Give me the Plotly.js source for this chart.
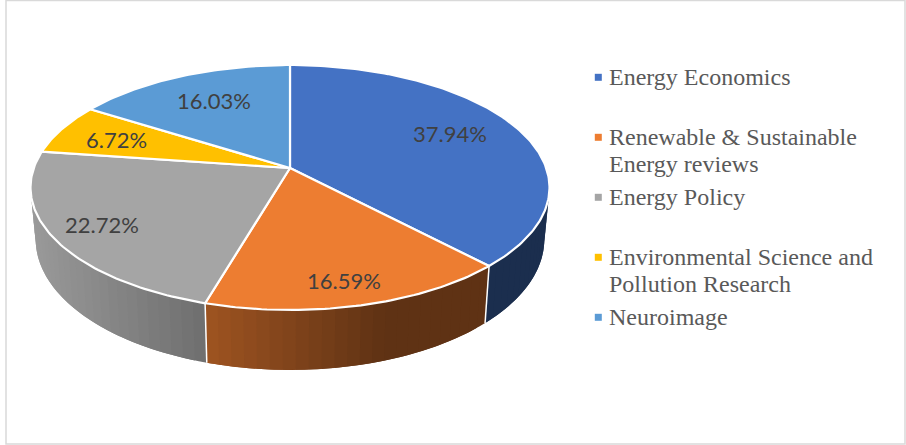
<!DOCTYPE html>
<html>
<head>
<meta charset="utf-8">
<script src="https://cdn.plot.ly/plotly-3.0.1.min.js"></script>
<style>html,body{margin:0;padding:0;background:#fff}#chart{width:906px;height:445px}</style>
</head>
<body>
<div id="chart"></div>
<script>
// ---- data ----
var categories = ["Energy Economics", "Renewable & Sustainable<br>Energy reviews", "Energy Policy", "Environmental Science and<br>Pollution Research", "Neuroimage"];
var shares = [37.94, 16.59, 22.72, 6.72, 16.03];
var colors = ["#4472c4", "#ed7d31", "#a5a5a5", "#ffc000", "#5b9bd5"];

// ---- label placement (layout only) ----
var labelX = [450, 344, 102, 116, 214];
var labelY = [133, 280, 224, 139, 100];
var legendY = [77.3, 137.3, 197.3, 257.3, 317.3];

// ---- projection of the tilted disc ----
var cx = 290, cy = 168, R = 256.2, H = 119.4, k = 0.159, depth = 50.4, shrink = 0.98;
function top3d(deg) {
  var a = deg * Math.PI / 180, u = Math.sin(a), v = Math.cos(a), p = 1 / (1 + k * v);
  return [cx + R * u * p, cy - H * v * p, p];
}
function bottom3d(deg) {
  var t = top3d(deg);
  return [cx + (t[0] - cx) * shrink, t[1] + depth * t[2]];
}
function shade(hex, f) {
  var n = parseInt(hex.slice(1), 16);
  return "rgb(" + Math.round((n >> 16) * f) + "," + Math.round(((n >> 8) & 255) * f) + "," + Math.round((n & 255) * f) + ")";
}
function wallFactor(x) {
  var f = 0.93 - 0.53 * (x - 31) / 354;
  return Math.max(0.40, f);
}

var total = shares.reduce(function (a, b) { return a + b; }, 0);
var bounds = [0];
shares.forEach(function (s) { bounds.push(bounds[bounds.length - 1] + s / total * 360); });

var traces = [];
var wallFrom = 99.1, wallTo = 260.9, stepDeg = 2.5;

// side wall: overlapping strips painted in order, so the shading runs left to right with no seams
shares.forEach(function (s, i) {
  var a0 = Math.max(bounds[i], wallFrom), a1 = Math.min(bounds[i + 1], wallTo);
  if (a1 <= a0) return;
  var n = Math.ceil((a1 - a0) / stepDeg);
  for (var j = 0; j < n; j++) {
    var p = a0 + (a1 - a0) * j / n, q = a0 + (a1 - a0) * (j + 1) / n;
    var far = Math.min(a1, q + stepDeg);
    var xs = [], ys = [], sub = 3, m;
    for (m = 0; m <= sub; m++) { var t = top3d(p + (far - p) * m / sub); xs.push(t[0]); ys.push(t[1]); }
    for (m = sub; m >= 0; m--) { var b = bottom3d(p + (far - p) * m / sub); xs.push(b[0]); ys.push(b[1]); }
    xs.push(xs[0]); ys.push(ys[0]);
    var col = shade(colors[i], wallFactor(top3d((p + q) / 2)[0]));
    traces.push({ type: "scatter", mode: "none", x: xs, y: ys, fill: "toself", fillcolor: col,
      hoverinfo: "skip", showlegend: false });
  }
});

// white dividers on the wall
bounds.forEach(function (a) {
  if (a > wallFrom && a < wallTo) {
    var t = top3d(a), b = bottom3d(a);
    traces.push({ type: "scatter", mode: "lines", x: [t[0], b[0]], y: [t[1], b[1]],
      line: { color: "#ffffff", width: 1.5 }, hoverinfo: "skip", showlegend: false });
  }
});

// top faces
shares.forEach(function (s, i) {
  var xs = [cx], ys = [cy], n = Math.ceil((bounds[i + 1] - bounds[i]));
  for (var j = 0; j <= n; j++) {
    var t = top3d(bounds[i] + (bounds[i + 1] - bounds[i]) * j / n);
    xs.push(t[0]); ys.push(t[1]);
  }
  xs.push(cx); ys.push(cy);
  traces.push({ type: "scatter", mode: "lines", x: xs, y: ys, fill: "toself", fillcolor: colors[i],
    line: { color: "#ffffff", width: 2.2 }, name: categories[i].replace("<br>", " "), hoverinfo: "name", showlegend: false });
});

// legend keys
traces.push({ type: "scatter", mode: "markers", x: categories.map(function () { return 598.3; }), y: legendY,
  marker: { symbol: "square", size: 7, color: colors, line: { width: 0 } }, hoverinfo: "skip", showlegend: false });

var annotations = [];
shares.forEach(function (s, i) {
  annotations.push({ x: labelX[i], y: labelY[i], xref: "x", yref: "y", text: s.toFixed(2) + "%", showarrow: false,
    xanchor: "center", yanchor: "middle", font: { family: "Lato, Carlito, sans-serif", size: 22, color: "#404040" } });
});
categories.forEach(function (c, i) {
  var lines = c.split("<br>");
  lines.forEach(function (ln, l) {
    annotations.push({ x: 607, y: legendY[i] + l * 27, xref: "x", yref: "y", text: ln, showarrow: false,
      xanchor: "left", yanchor: "middle", font: { family: "Liberation Serif, serif", size: 24, color: "#595959" } });
  });
});

var layout = {
  width: 906, height: 445,
  margin: { l: 0, r: 0, t: 0, b: 0, pad: 0 },
  paper_bgcolor: "#ffffff", plot_bgcolor: "#ffffff",
  xaxis: { range: [0, 906], visible: false, fixedrange: true },
  yaxis: { range: [445, 0], visible: false, fixedrange: true },
  showlegend: false,
  annotations: annotations,
  shapes: [{ type: "rect", xref: "x", yref: "y", x0: 6, y0: 0.5, x1: 905, y1: 444,
    line: { color: "#d9d9d9", width: 1.5 }, fillcolor: "rgba(0,0,0,0)", layer: "below" }]
};
Plotly.newPlot("chart", traces, layout, { displayModeBar: false, staticPlot: true });
</script>
</body>
</html>
